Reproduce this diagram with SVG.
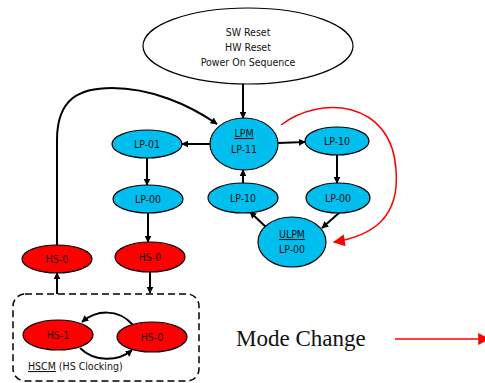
<svg xmlns="http://www.w3.org/2000/svg" width="485" height="383" viewBox="0 0 485 383">
<defs>
<marker id="ab" viewBox="0 0 10 10" refX="9" refY="5" markerWidth="7" markerHeight="7" orient="auto" markerUnits="userSpaceOnUse"><path d="M0,0 L10,5 L0,10 z" fill="#000"/></marker>
<marker id="ar" viewBox="0 0 10 10" refX="9" refY="5" markerWidth="14" markerHeight="12" orient="auto" markerUnits="userSpaceOnUse"><path d="M0,0 L10,5 L0,10 z" fill="#ff0000"/></marker>
<style>
.lp{fill:#00bfef;stroke:#000;stroke-width:1.2}
.hs{fill:#ff0000;stroke:#000;stroke-width:1.2}
.t{font-family:"DejaVu Sans Condensed","DejaVu Sans",sans-serif;font-size:10.5px;fill:#111;text-anchor:middle}
.c{fill:none;stroke:#000;stroke-width:2;marker-end:url(#ab)}
.r{fill:none;stroke:#ff0000;stroke-width:1.5;marker-end:url(#ar)}
</style>
</defs>
<rect width="485" height="383" fill="#fff"/>
<g id="reset">
<ellipse cx="248" cy="46" rx="105" ry="38" fill="#fff" stroke="#000" stroke-width="1.2"/>
<text class="t" x="248" y="36">SW Reset</text>
<text class="t" x="248" y="51">HW Reset</text>
<text class="t" x="248" y="66">Power On Sequence</text>
</g>
<g id="hscm">
<rect x="13" y="294" width="186" height="87" rx="12" fill="none" stroke="#000" stroke-width="1.5" stroke-dasharray="7,4"/>
<text class="t" x="28" y="370" style="text-anchor:start"><tspan text-decoration="underline">HSCM</tspan> (HS Clocking)</text>
</g>
<g id="connectors">
<line class="c" x1="243" y1="84" x2="243" y2="118"/>
<path class="c" d="M57,245 L57,140 C57,98 80,88 112,88 C150,88 188,104 217,124"/>
<line class="c" x1="57" y1="294" x2="57" y2="273"/>
<line class="c" x1="210" y1="144" x2="182" y2="144"/>
<line class="c" x1="147" y1="158" x2="147" y2="185"/>
<line class="c" x1="148" y1="213" x2="148" y2="242"/>
<line class="c" x1="150" y1="272" x2="150" y2="293"/>
<line class="c" x1="278" y1="143" x2="305" y2="142"/>
<line class="c" x1="337" y1="155" x2="337" y2="183"/>
<line class="c" x1="340" y1="212" x2="322" y2="228"/>
<line class="c" x1="267" y1="228" x2="250" y2="212"/>
<line class="c" x1="243" y1="183" x2="243" y2="170"/>
<path class="c" d="M133,325 C118,308 96,310 82,322"/>
<path class="c" d="M80,348 C94,362 118,362 132,350"/>
<path class="r" d="M281,125 C320,95 392,100 396,170 C400,218 372,236 334,242"/>
</g>
<g id="lpm"><ellipse class="lp" cx="244" cy="144" rx="34" ry="26"/><text class="t" x="244" y="137" text-decoration="underline">LPM</text><text class="t" x="244" y="153">LP-11</text></g>
<g id="lp01"><ellipse class="lp" cx="147" cy="144" rx="35" ry="14"/><text class="t" x="147" y="148">LP-01</text></g>
<g id="lp00a"><ellipse class="lp" cx="148" cy="199" rx="35" ry="14"/><text class="t" x="148" y="203">LP-00</text></g>
<g id="lp10r"><ellipse class="lp" cx="337" cy="141" rx="32" ry="14"/><text class="t" x="337" y="145">LP-10</text></g>
<g id="lp00r"><ellipse class="lp" cx="338" cy="198" rx="32" ry="15"/><text class="t" x="338" y="202">LP-00</text></g>
<g id="lp10l"><ellipse class="lp" cx="243" cy="198" rx="35" ry="15"/><text class="t" x="243" y="202">LP-10</text></g>
<g id="ulpm"><ellipse class="lp" cx="292" cy="242" rx="34" ry="25"/><text class="t" x="292" y="238" text-decoration="underline">ULPM</text><text class="t" x="292" y="253">LP-00</text></g>
<g id="hs0a"><ellipse class="hs" cx="57" cy="259" rx="35" ry="14"/><text class="t" x="57" y="263">HS-0</text></g>
<g id="hs0b"><ellipse class="hs" cx="150" cy="257" rx="35" ry="15"/><text class="t" x="150" y="261">HS-0</text></g>
<g id="hs1"><ellipse class="hs" cx="58" cy="335" rx="35" ry="15"/><text class="t" x="58" y="339">HS-1</text></g>
<g id="hs0c"><ellipse class="hs" cx="152" cy="337" rx="35" ry="15"/><text class="t" x="152" y="341">HS-0</text></g>
<g id="legend">
<text x="236" y="346" font-family="'Liberation Serif',serif" font-size="23" fill="#111">Mode Change</text>
<line class="r" x1="395" y1="339" x2="489" y2="339"/>
</g>
</svg>
